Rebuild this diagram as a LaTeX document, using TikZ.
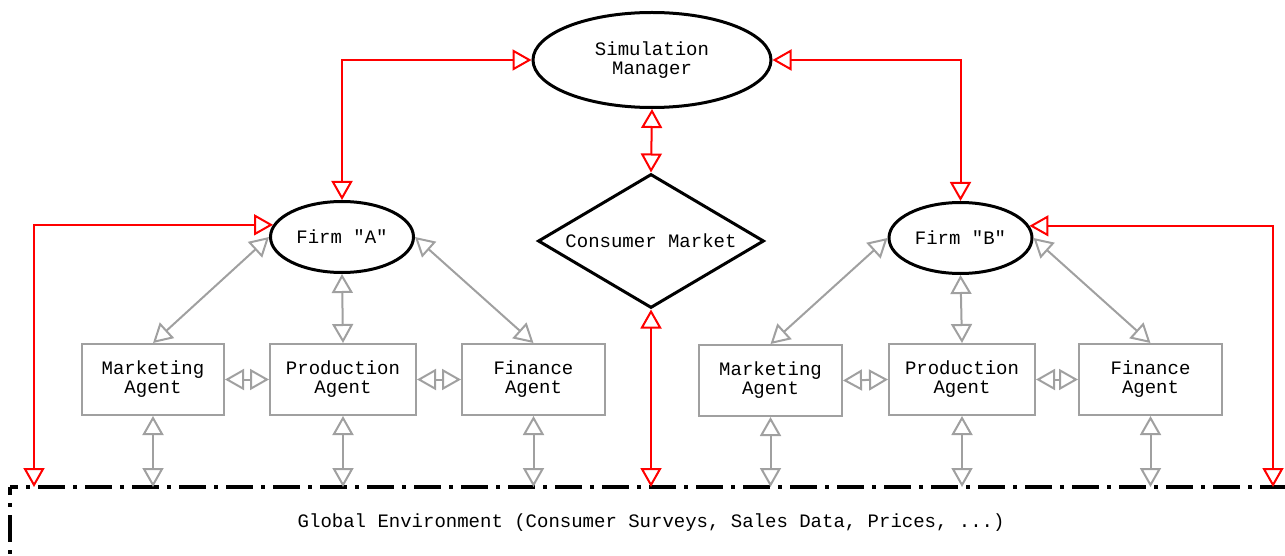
\documentclass[tikz,border=0pt]{standalone}
\usepackage{fontspec}
\usetikzlibrary{shapes.geometric,arrows.meta}
\newfontfamily\courfont{Liberation Mono}
\definecolor{linkgray}{RGB}{160,160,160}
\begin{document}
\begin{tikzpicture}[x=1pt,y=-1pt,
  every node/.style={font=\courfont\fontsize{19}{19}\selectfont, align=center, inner sep=0pt},
  oval/.style={ellipse, draw=black, line width=3pt},
  agent/.style={rectangle, draw=linkgray, line width=2pt, minimum height=71},
  both/.style={{Triangle[open,length=19pt,width=21pt]}-{Triangle[open,length=19pt,width=21pt]}, line width=2pt},
  redlink/.style={both, draw=red},
  graylink/.style={both, draw=linkgray},
  envline/.style={line width=4pt, dash pattern=on 27pt off 8pt on 4pt off 8pt, dash phase=19pt}
]
\useasboundingbox (0,0) rectangle (1285,556);
\clip (0,0) rectangle (1285,556);

% central column
\node[oval, minimum width=238, minimum height=95] (sim) at (652,60) {Simulation\\Manager};
\node[diamond, draw, line width=3pt, aspect=1.69, minimum width=226, minimum height=134] (market) at (651,241) {Consumer Market};

% the two firms
\node[oval, minimum width=143, minimum height=71] (firmA) at (342,237) {Firm "A"};
\node[oval, minimum width=143, minimum height=71] (firmB) at (960.5,238) {Firm "B"};

% agents of firm A
\node[agent, minimum width=142] (mktA) at (153,379.5) {Marketing\\Agent};
\node[agent, minimum width=146] (prodA) at (343,379.5) {Production\\Agent};
\node[agent, minimum width=143] (finA) at (533.5,379.5) {Finance\\Agent};

% agents of firm B
\node[agent, minimum width=143] (mktB) at (770.5,380.5) {Marketing\\Agent};
\node[agent, minimum width=146] (prodB) at (962,379.5) {Production\\Agent};
\node[agent, minimum width=143] (finB) at (1150.5,379.5) {Finance\\Agent};

% shared environment
\node[minimum width=1282, minimum height=70, anchor=north west] (env) at (10,487)
  {Global Environment (Consumer Surveys, Sales Data, Prices, ...)};
\draw[envline] (env.north west) -- ++(0,120);
\draw[envline] (env.north west) -- ++(1320,0);

\coordinate (dropA) at (34,487);
\coordinate (dropB) at (1273,487);

% control links
\draw[redlink] (sim.west) -| (firmA.north);
\draw[redlink] (sim.east) -| (firmB.north);
\draw[redlink] (sim.south) -- (market.north);
\draw[redlink] (market.south) -- (market.south |- env.north);
\draw[redlink] (firmA.170) -| (dropA);
\draw[redlink] (firmB.10) -| (dropB);

% firm A internals
\draw[graylink] (firmA.west) -- (mktA.north);
\draw[graylink] (firmA.south) -- (prodA.north);
\draw[graylink] (firmA.east) -- (finA.north);
\draw[graylink] (mktA.east) -- (prodA.west);
\draw[graylink] (prodA.east) -- (finA.west);

% firm B internals
\draw[graylink] (firmB.west) -- (mktB.north);
\draw[graylink] (firmB.south) -- (prodB.north);
\draw[graylink] (firmB.east) -- (finB.north);
\draw[graylink] (mktB.east) -- (prodB.west);
\draw[graylink] (prodB.east) -- (finB.west);

% agents to environment
\foreach \a in {mktA,prodA,finA,mktB,prodB,finB}
  \draw[graylink] (\a.south) -- (\a.south |- env.north);
\end{tikzpicture}
\end{document}
